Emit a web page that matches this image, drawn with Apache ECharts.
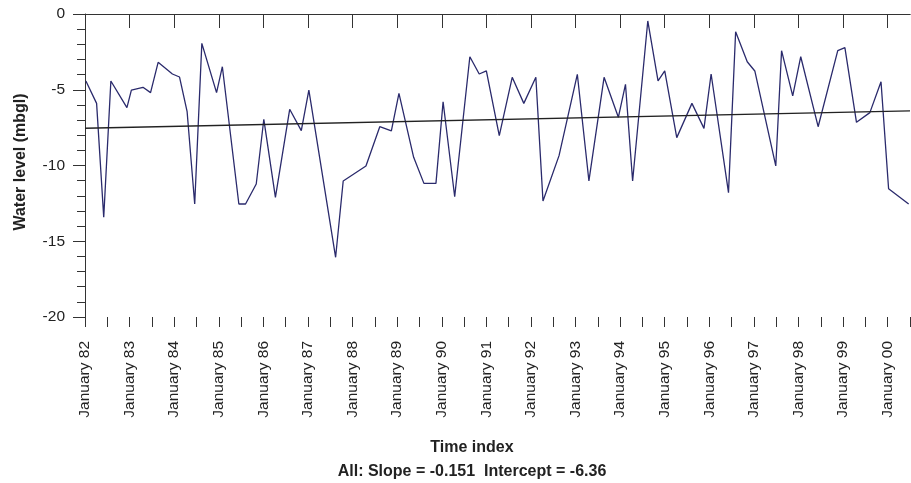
<!DOCTYPE html>
<html><head><meta charset="utf-8">
<script src="https://cdn.jsdelivr.net/npm/echarts@6/dist/echarts.min.js"></script>
<style>html,body{margin:0;padding:0;background:#fff}#c{width:911px;height:483px}</style>
</head><body><div id="c"></div><script>
// Sample times (decimal years) and water levels (m below ground level)
const sampleYears = [
  1982.02,1982.26,1982.42,1982.58,1982.94,1983.04,1983.30,1983.47,1983.64,1983.96,
  1984.12,1984.29,1984.46,1984.62,1984.95,1985.08,1985.45,1985.60,1985.84,1986.01,
  1986.27,1986.59,1986.85,1987.02,1987.62,1987.79,1988.30,1988.61,1988.87,1989.04,
  1989.37,1989.60,1989.87,1990.03,1990.29,1990.63,1990.84,1991.00,1991.29,1991.58,
  1991.84,1992.11,1992.27,1992.63,1993.04,1993.30,1993.64,1993.96,1994.12,1994.28,
  1994.62,1994.85,1995.00,1995.27,1995.61,1995.88,1996.04,1996.43,1996.59,1996.85,
  1997.02,1997.49,1997.62,1997.87,1998.05,1998.44,1998.88,1999.04,1999.30,1999.60,
  1999.85,2000.02,2000.47
];
const waterLevels = [
  -4.42,-5.90,-13.42,-4.42,-6.18,-5.02,-4.84,-5.19,-3.19,-3.96,
  -4.16,-6.45,-12.54,-1.94,-5.19,-3.48,-12.54,-12.54,-11.22,-6.95,
  -12.10,-6.29,-7.70,-5.02,-16.06,-11.02,-10.03,-7.44,-7.72,-5.24,
  -9.46,-11.18,-11.18,-5.79,-12.06,-2.82,-3.96,-3.76,-8.03,-4.18,
  -5.90,-4.18,-12.34,-9.35,-3.98,-11.02,-4.18,-6.82,-4.64,-11.02,
  -0.46,-4.42,-3.76,-8.16,-5.90,-7.55,-3.96,-11.79,-1.17,-3.15,
  -3.76,-10.03,-2.42,-5.41,-2.82,-7.44,-2.42,-2.22,-7.15,-6.51,
  -4.47,-11.53,-12.54
];
// Trend line end points
const trendYears = [1982, 2000.5];
const trendLevels = [-7.54, -6.40];
// Labelled x ticks (January of each year)
const labelYears = [];
for (let y = 1982; y <= 2000; y++) labelYears.push(y);
const yMin = -20, yMax = 0, yStep = 5;
const xMin = 1982, xMax = 2000.5;
const subtitle = 'All: Slope = -0.151  Intercept = -6.36';

const FONT = '"Liberation Sans", Arial, sans-serif';
const AX = '#333';
const chart = echarts.init(document.getElementById('c'), null, {renderer: 'canvas'});
chart.setOption({
  animation: false,
  backgroundColor: '#fff',
  grid: {left: 85, right: 1, top: 14, bottom: 166, containLabel: false, outerBoundsMode: 'none'},
  xAxis: [
    {
      type: 'value', min: xMin, max: xMax, interval: 1, position: 'bottom',
      axisLine: {show: true, lineStyle: {color: AX, width: 1}},
      axisTick: {show: true, length: 14, customValues: labelYears, lineStyle: {color: AX, width: 1}},
      axisLabel: {
        show: true, customValues: labelYears, rotate: 90, margin: 24,
        fontFamily: FONT, fontSize: 15.5, color: '#222',
        formatter: v => 'January ' + String(Math.round(v) % 100).padStart(2, '0')
      },
      splitLine: {show: false}
    },
    {
      type: 'value', min: xMin, max: xMax, interval: 0.5, position: 'bottom',
      axisLine: {show: false},
      axisTick: {show: true, length: 10, lineStyle: {color: AX, width: 1}},
      axisLabel: {show: false},
      splitLine: {show: false}
    },
    {
      type: 'value', min: xMin, max: xMax, interval: 1, position: 'top',
      axisLine: {show: true, lineStyle: {color: AX, width: 1}},
      axisTick: {show: false}, axisLabel: {show: false}, splitLine: {show: false}
    }
  ],
  yAxis: {
    type: 'value', min: yMin, max: yMax, interval: yStep,
    axisLine: {show: true, lineStyle: {color: AX, width: 1}},
    axisTick: {show: true, length: 12, lineStyle: {color: AX, width: 1}},
    minorTick: {show: true, splitNumber: 5, length: 8, lineStyle: {color: AX, width: 1}},
    axisLabel: {margin: 20, fontFamily: FONT, fontSize: 15.5, color: '#222'},
    splitLine: {show: false}, minorSplitLine: {show: false}
  },
  graphic: [
    {type: 'text', x: 21, y: 162, rotation: Math.PI / 2,
     style: {text: 'Water level (mbgl)', font: 'bold 16px ' + FONT, fill: '#222', align: 'center', verticalAlign: 'middle'}},
    {type: 'text', x: 472, y: 448,
     style: {text: 'Time index', font: 'bold 16px ' + FONT, fill: '#222', align: 'center', verticalAlign: 'middle'}},
    {type: 'text', x: 472, y: 472,
     style: {text: subtitle, font: 'bold 16px ' + FONT, fill: '#222', align: 'center', verticalAlign: 'middle'}}
  ],
  series: [
    {
      type: 'line', xAxisIndex: 0, yAxisIndex: 0, showSymbol: false, symbol: 'none',
      data: sampleYears.map((t, i) => [t, waterLevels[i]]),
      lineStyle: {color: '#2a2a6c', width: 1.3}
    },
    {
      type: 'line', xAxisIndex: 0, yAxisIndex: 0, showSymbol: false, symbol: 'none',
      data: trendYears.map((t, i) => [t, trendLevels[i]]),
      lineStyle: {color: '#222', width: 1.3}
    }
  ]
});
</script></body></html>
